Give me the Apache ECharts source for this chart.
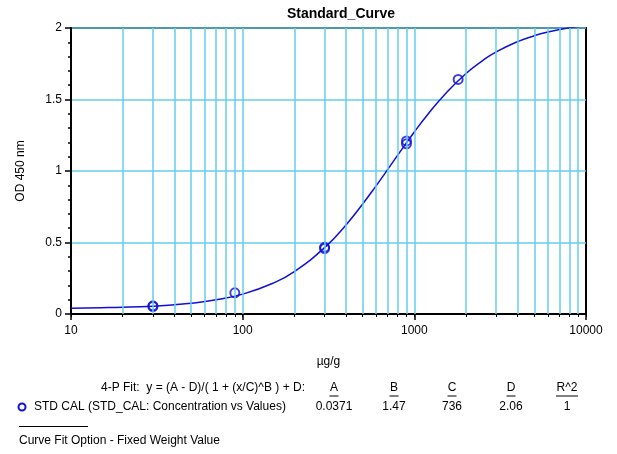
<!DOCTYPE html>
<html>
<head>
<meta charset="utf-8">
<script src="https://cdn.jsdelivr.net/npm/echarts@6/dist/echarts.min.js"></script>
<style>
  html, body { margin: 0; padding: 0; background: #fff; }
  #chart { width: 617px; height: 454px; }
</style>
</head>
<body>
<div id="chart"></div>
<script>
// fitted 4-P curve
const curveX = [10, 15, 20, 30, 40, 50, 70, 100, 150, 200, 300, 400, 500, 600, 700, 800,
  1000, 1200, 1500, 2000, 2500, 3000, 4000, 5000, 6000, 8000, 10000];
const curveY = [0.041, 0.044, 0.047, 0.055, 0.065, 0.075, 0.099, 0.139, 0.215, 0.297, 0.464,
  0.623, 0.769, 0.898, 1.011, 1.111, 1.273, 1.397, 1.534, 1.682, 1.772, 1.833, 1.905, 1.946,
  1.972, 2.001, 2.017];

// standards
const stdX = [30, 30, 90, 300, 300, 900, 900, 1800];
const stdY = [0.052, 0.057, 0.148, 0.458, 0.466, 1.19, 1.21, 1.64];

// axis ticks
const xMajorTicks = [10, 100, 1000, 10000];
const xAllTicks = [10, 20, 30, 40, 50, 60, 70, 80, 90, 100, 200, 300, 400, 500, 600, 700, 800, 900,
  1000, 2000, 3000, 4000, 5000, 6000, 7000, 8000, 9000, 10000];
const xGridLines = [20, 30, 40, 50, 60, 70, 80, 90, 100, 200, 300, 400, 500, 600, 700, 800, 900,
  1000, 2000, 3000, 4000, 5000, 6000, 7000, 8000, 9000];

// fit table
const fitHeaders = ['A', 'B', 'C', 'D', 'R^2'];
const fitValues = ['0.0371', '1.47', '736', '2.06', '1'];
const fitColumnX = [334, 394, 452, 511, 567];

const FONT = 'Liberation Sans, Arial, sans-serif';
const BLUE = '#1010d8';
const GRID_BLUE = '#66ccee';

const chart = echarts.init(document.getElementById('chart'));

const tableGraphics = [];
tableGraphics.push({
  type: 'text', x: 305, y: 388,
  style: { text: '4-P Fit:  y = (A - D)/( 1 + (x/C)^B ) + D:', font: '12px ' + FONT, fill: '#000', align: 'right', verticalAlign: 'middle' },
});
fitHeaders.forEach((h, i) => {
  const cx = fitColumnX[i];
  const half = h.length > 1 ? 11 : 4.5;
  tableGraphics.push({
    type: 'text', x: cx, y: 388,
    style: { text: h, font: '12px ' + FONT, fill: '#000', align: 'center', verticalAlign: 'middle' },
  });
  tableGraphics.push({
    type: 'line', shape: { x1: cx - half, y1: 396, x2: cx + half, y2: 396 },
    style: { stroke: '#000', lineWidth: 1 },
  });
  tableGraphics.push({
    type: 'text', x: cx, y: 407,
    style: { text: fitValues[i], font: '12px ' + FONT, fill: '#000', align: 'center', verticalAlign: 'middle' },
  });
});
tableGraphics.push({
  type: 'circle', shape: { cx: 22, cy: 407, r: 3.5 },
  style: { fill: 'none', stroke: BLUE, lineWidth: 2 },
});
tableGraphics.push({
  type: 'text', x: 34, y: 407,
  style: { text: 'STD CAL (STD_CAL: Concentration vs Values)', font: '12px ' + FONT, fill: '#000', align: 'left', verticalAlign: 'middle' },
});
tableGraphics.push({
  type: 'line', shape: { x1: 19, y1: 426.5, x2: 88, y2: 426.5 },
  style: { stroke: '#000', lineWidth: 1 },
});
tableGraphics.push({
  type: 'text', x: 19, y: 441,
  style: { text: 'Curve Fit Option - Fixed Weight Value', font: '12px ' + FONT, fill: '#000', align: 'left', verticalAlign: 'middle' },
});

const option = {
  animation: false,
  backgroundColor: '#fff',
  title: {
    text: 'Standard_Curve',
    left: 336,
    top: 2,
    textAlign: 'center',
    textStyle: { fontFamily: FONT, fontSize: 14, fontWeight: 'bold', color: '#000' },
  },
  grid: {
    left: 71,
    top: 28,
    right: 31,
    bottom: 140,
    show: true,
    borderColor: '#000',
    borderWidth: 2,
    backgroundColor: 'transparent',
  },
  xAxis: [{
    type: 'log',
    logBase: 10,
    min: 10,
    max: 10000,
    position: 'bottom',
    name: 'µg/g',
    nameLocation: 'middle',
    nameGap: 42,
    nameTextStyle: { fontFamily: FONT, fontSize: 12, color: '#000' },
    axisLine: { show: true, lineStyle: { color: '#000', width: 2 } },
    axisTick: { show: true, length: 3, lineStyle: { color: '#000', width: 1 }, customValues: xAllTicks },
    axisLabel: {
      fontFamily: FONT, fontSize: 12, color: '#000', margin: 11,
      customValues: xMajorTicks,
      formatter: v => String(v),
    },
    splitLine: { show: false },
  }, {
    type: 'log',
    logBase: 10,
    min: 10,
    max: 10000,
    position: 'bottom',
    axisLine: { show: false },
    axisTick: { show: true, length: 6, lineStyle: { color: '#000', width: 1.5 }, customValues: xMajorTicks },
    axisLabel: { show: false },
    splitLine: { show: false },
  }],
  yAxis: {
    type: 'value',
    min: 0,
    max: 2,
    interval: 0.5,
    name: 'OD 450 nm',
    nameLocation: 'middle',
    nameGap: 44,
    nameTextStyle: { fontFamily: FONT, fontSize: 12, color: '#000' },
    axisLine: { show: true, lineStyle: { color: '#000', width: 2 } },
    axisTick: { show: true, length: 6, lineStyle: { color: '#000', width: 1.5 } },
    minorTick: { show: true, splitNumber: 5, length: 3, lineStyle: { color: '#000', width: 1.5 } },
    axisLabel: { fontFamily: FONT, fontSize: 12, color: '#000', margin: 9 },
    splitLine: { show: true, lineStyle: { color: GRID_BLUE, width: 1.5 } },
  },
  graphic: tableGraphics,
  series: [{
    type: 'line',
    data: [],
    silent: true,
    z: 1,
    markLine: {
      silent: true,
      symbol: ['none', 'none'],
      label: { show: false },
      lineStyle: { color: GRID_BLUE, width: 1.5, type: 'solid' },
      data: xGridLines.map(v => ({ xAxis: v })),
    },
  }, {
    type: 'line',
    data: curveX.map((x, i) => [x, curveY[i]]),
    smooth: true,
    showSymbol: false,
    clip: true,
    z: 3,
    lineStyle: { color: BLUE, width: 1.5 },
  }, {
    type: 'scatter',
    data: stdX.map((x, i) => [x, stdY[i]]),
    symbol: 'circle',
    symbolSize: 9,
    z: 4,
    itemStyle: { color: 'transparent', borderColor: BLUE, borderWidth: 2 },
  }],
};

chart.setOption(option);
</script>
</body>
</html>
